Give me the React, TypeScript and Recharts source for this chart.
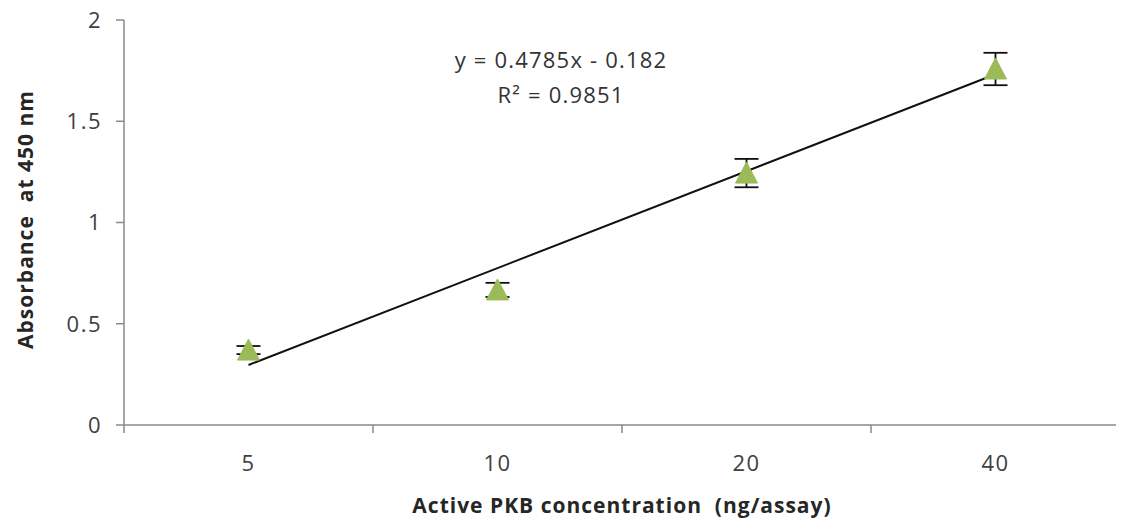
import React from "react";
import {
  ComposedChart,
  Scatter,
  XAxis,
  YAxis,
  ErrorBar,
  Label,
} from "recharts";

// Categories (ng/assay) placed at positions 1..4
const categories = ["5", "10", "20", "40"];
const positions = [1, 2, 3, 4];
// Absorbance at 450 nm (means) and error bar half-lengths
const absorbance = [0.37, 0.667, 1.244, 1.758];
const errors = [0.02, 0.035, 0.07, 0.08];
// Linear trendline endpoints (y = 0.4785x - 0.182)
const trendX = [1, 4];
const trendY = [0.2965, 1.732];
const yTicks = [0, 0.5, 1, 1.5, 2];
const xTicks = [0.5, 1, 1.5, 2, 2.5, 3, 3.5, 4, 4.5];

const points = positions.map((x, i) => ({ x, y: absorbance[i], err: errors[i] }));
const trend = trendX.map((x, i) => ({ x, y: trendY[i] }));

const FONT = "'Open Sans', sans-serif";
const AXIS = "#8a8a8a";
const TEXT = "#404040";
const GREEN = "#9BBB59";

const Triangle = (props: any) => {
  const { cx, cy } = props;
  if (cx == null || cy == null) return <g />;
  return (
    <polygon
      points={`${cx},${cy - 11} ${cx - 11},${cy + 10} ${cx + 11},${cy + 10}`}
      fill={GREEN}
      stroke={GREEN}
      strokeWidth={1}
    />
  );
};

const XTick = (props: any) => {
  const { x, y, payload } = props;
  const v = payload.value;
  if (Number.isInteger(v)) {
    return (
      <text
        x={x}
        y={y + 46}
        textAnchor="middle"
        fill={TEXT}
        fontSize={22}
        fontFamily={FONT}
        style={{ letterSpacing: 1.5 }}
      >
        {categories[v - 1]}
      </text>
    );
  }
  return <line x1={x} x2={x} y1={y} y2={y + 8} stroke={AXIS} strokeWidth={1.5} />;
};

export default function App() {
  return (
    <div style={{ position: "relative", width: 1116, height: 515 }}>
      <style>{".recharts-surface{overflow:visible}"}</style>
      <ComposedChart
        width={1116}
        height={515}
        margin={{ top: 12, right: 4, left: 0, bottom: 0 }}
      >
        <XAxis
          dataKey="x"
          type="number"
          domain={[0.5, 4.5]}
          ticks={xTicks}
          interval={0}
          tickLine={false}
          tickSize={0}
          tickMargin={0}
          tick={<XTick />}
          axisLine={{ stroke: AXIS, strokeWidth: 1.5 }}
          height={98}
        >
          <Label
            content={(p: any) => {
              const vb = p.viewBox;
              return (
                <text
                  x={vb.x + vb.width / 2}
                  y={vb.y + 88}
                  textAnchor="middle"
                  fill="#262626"
                  fontSize={21}
                  fontWeight="bold"
                  fontFamily={FONT}
                  style={{ letterSpacing: 1 }}
                >
                  {"Active PKB concentration\u00A0 (ng/assay)"}
                </text>
              );
            }}
          />
        </XAxis>
        <YAxis
          dataKey="y"
          type="number"
          domain={[0, 2]}
          ticks={yTicks}
          interval={0}
          width={116}
          tickSize={8}
          tickMargin={14}
          tickLine={{ stroke: AXIS, strokeWidth: 1.5 }}
          axisLine={{ stroke: AXIS, strokeWidth: 1.5 }}
          tick={{ fill: TEXT, fontSize: 22, fontFamily: FONT, style: { letterSpacing: 1.5 } }}
        >
          <Label
            content={(p: any) => {
              const vb = p.viewBox;
              const cx = 17;
              const cy = vb.y + vb.height / 2 - 3;
              return (
                <text
                  x={cx}
                  y={cy}
                  transform={`rotate(-90, ${cx}, ${cy})`}
                  textAnchor="middle"
                  dominantBaseline="central"
                  fill="#262626"
                  fontSize={21}
                  fontWeight="bold"
                  fontFamily={FONT}
                  style={{ letterSpacing: 1 }}
                >
                  {"Absorbance\u00A0 at 450 nm"}
                </text>
              );
            }}
          />
        </YAxis>
        <Scatter
          data={trend}
          isAnimationActive={false}
          line={{ stroke: "#111", strokeWidth: 2 }}
          shape={() => <g />}
        />
        <Scatter data={points} isAnimationActive={false} shape={<Triangle />}>
          <ErrorBar dataKey="err" direction="y" width={12} stroke="#111" strokeWidth={1.8} />
        </Scatter>
      </ComposedChart>
      <div
        style={{
          position: "absolute",
          left: 438,
          top: 34,
          width: 230,
          textAlign: "center",
          fontFamily: FONT,
          fontSize: 22,
          letterSpacing: 1.2,
          lineHeight: "35px",
          color: "#333",
        }}
      >
        <div>y = 0.4785x - 0.182</div>
        <div>R² = 0.9851</div>
      </div>
    </div>
  );
}
